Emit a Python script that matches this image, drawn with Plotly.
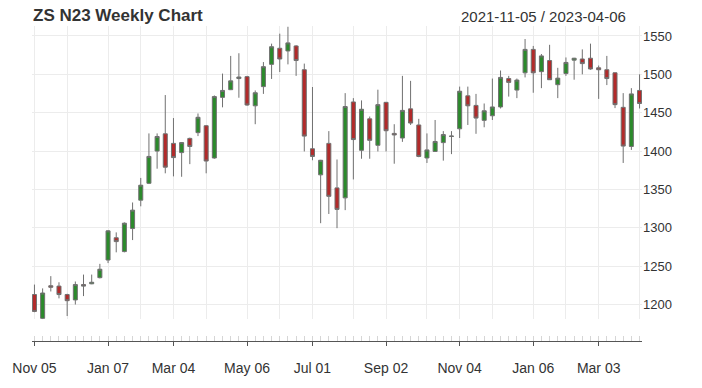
import plotly.graph_objects as go

# Weekly bar dates (last bar is a Thursday)
dates = [
    "2021-11-05", "2021-11-12", "2021-11-19", "2021-11-26", "2021-12-03", "2021-12-10",
    "2021-12-17", "2021-12-24", "2021-12-31", "2022-01-07", "2022-01-14", "2022-01-21",
    "2022-01-28", "2022-02-04", "2022-02-11", "2022-02-18", "2022-02-25", "2022-03-04",
    "2022-03-11", "2022-03-18", "2022-03-25", "2022-04-01", "2022-04-08", "2022-04-15",
    "2022-04-22", "2022-04-29", "2022-05-06", "2022-05-13", "2022-05-20", "2022-05-27",
    "2022-06-03", "2022-06-10", "2022-06-17", "2022-06-24", "2022-07-01", "2022-07-08",
    "2022-07-15", "2022-07-22", "2022-07-29", "2022-08-05", "2022-08-12", "2022-08-19",
    "2022-08-26", "2022-09-02", "2022-09-09", "2022-09-16", "2022-09-23", "2022-09-30",
    "2022-10-07", "2022-10-14", "2022-10-21", "2022-10-28", "2022-11-04", "2022-11-11",
    "2022-11-18", "2022-11-25", "2022-12-02", "2022-12-09", "2022-12-16", "2022-12-23",
    "2022-12-30", "2023-01-06", "2023-01-13", "2023-01-20", "2023-01-27", "2023-02-03",
    "2023-02-10", "2023-02-17", "2023-02-24", "2023-03-03", "2023-03-10", "2023-03-17",
    "2023-03-24", "2023-03-31", "2023-04-06",
]

opens = [
    1213, 1182, 1224.5, 1224, 1213, 1206, 1226, 1227, 1235, 1258,
    1287, 1269, 1299, 1336, 1358, 1400, 1422.5, 1410, 1398, 1416.5,
    1424, 1433, 1391, 1470, 1480, 1494.5, 1497, 1459, 1484, 1513,
    1534, 1530.5, 1537, 1506, 1403, 1369, 1410, 1352, 1339, 1464,
    1401, 1442, 1407.5, 1463.5, 1423, 1417, 1455, 1434, 1391, 1399.5,
    1411, 1419, 1429, 1472, 1459.5, 1440, 1446, 1457.5, 1494.5, 1479.5,
    1502, 1532.5, 1503.5, 1518, 1486.5, 1501, 1518.5, 1520, 1521, 1508.5,
    1506, 1502, 1457, 1406, 1479,
]
highs = [
    1226, 1221, 1237, 1229, 1214, 1230, 1239, 1239, 1253, 1297,
    1294, 1307, 1333, 1365, 1423, 1423, 1473, 1443, 1411.5, 1417.5,
    1449, 1434, 1472.5, 1501, 1524, 1527.5, 1498, 1479, 1516, 1540,
    1553, 1562, 1538, 1514, 1483.5, 1388.5, 1426, 1389, 1475.5, 1469,
    1466, 1445, 1480, 1464, 1435, 1498, 1491.5, 1442, 1423, 1440.5,
    1426, 1426, 1484, 1484, 1474.5, 1462, 1494.5, 1505, 1498, 1494.5,
    1546, 1537, 1526.5, 1538.5, 1508.5, 1522, 1521.5, 1532.5, 1540, 1511.5,
    1524, 1502.5, 1475.5, 1482, 1500,
]
lows = [
    1190, 1181, 1217, 1208, 1185, 1200, 1211, 1226.5, 1234, 1254,
    1268, 1268, 1284, 1328, 1357, 1377, 1371, 1367, 1366.5, 1383,
    1419.5, 1371, 1390, 1457, 1479.5, 1469.5, 1459, 1435, 1474.5, 1494,
    1503, 1513, 1498, 1399.5, 1388, 1306, 1318, 1299.5, 1323, 1363,
    1390, 1390, 1399.5, 1399.5, 1383.5, 1412, 1434, 1392, 1384.5, 1399,
    1387.5, 1396, 1417, 1434, 1422.5, 1431, 1440.5, 1455.5, 1471, 1469,
    1496, 1476, 1482, 1493, 1469, 1498, 1493, 1500, 1506, 1468,
    1486, 1456, 1384.5, 1401.5, 1455.5,
]
closes = [
    1191, 1215, 1222.5, 1213, 1205, 1226, 1224, 1229, 1246, 1296,
    1282, 1306, 1323, 1355.5, 1393, 1419, 1379, 1391.5, 1411, 1406,
    1444, 1387, 1471, 1479, 1491.5, 1496.5, 1460, 1476, 1510, 1536,
    1520, 1541, 1518, 1419.5, 1393, 1388, 1341, 1324, 1458, 1415,
    1454.5, 1414, 1460.5, 1426.5, 1421, 1453, 1436.5, 1393, 1401.5, 1412.5,
    1421.5, 1419.5, 1478, 1459, 1443, 1452.5, 1457.5, 1496, 1489.5, 1492.5,
    1532.5, 1502, 1524, 1493, 1495, 1515.5, 1521, 1514, 1507, 1506,
    1494.5, 1460.5, 1406.5, 1474.5, 1462,
]

y_ticks = [1200, 1250, 1300, 1350, 1400, 1450, 1500, 1550]
month_abbr = ["Jan", "Feb", "Mar", "Apr", "May", "Jun", "Jul", "Aug", "Sep", "Oct", "Nov", "Dec"]

idx = list(range(len(dates)))

# month-start ticks (first bar of each month), label every other one
tick_vals, tick_text = [], []
prev_month = None
for i, d in enumerate(dates):
    m = d[:7]
    if m != prev_month:
        lab = ""
        if len(tick_vals) % 2 == 0:
            lab = f"{month_abbr[int(d[5:7]) - 1]} {d[8:10]}"
        tick_vals.append(i)
        tick_text.append(lab)
    prev_month = m

FONT = "Liberation Sans, Arial, sans-serif"
TXT = "#333333"

fig = go.Figure()
fig.add_trace(go.Candlestick(
    x=idx, open=opens, high=highs, low=lows, close=closes,
    increasing=dict(fillcolor="#2b8a2b", line=dict(color="#707070", width=1)),
    decreasing=dict(fillcolor="#b22a2a", line=dict(color="#707070", width=1)),
    whiskerwidth=0,
    showlegend=False,
    hoverinfo="skip",
))

W, H = 702, 388
ml, mr, mt = 31, 60, 26
plot_h = 322                  # candle area top 26 -> axis line 348
mb = H - mt - plot_h
ydom0 = 22 / plot_h           # candle area bottom at 326 px
plot_w = W - ml - mr

fig.update_layout(
    width=W, height=H,
    margin=dict(l=ml, r=mr, t=mt, b=mb, pad=0),
    paper_bgcolor="white", plot_bgcolor="white",
    font=dict(family=FONT, color=TXT),
    showlegend=False,
    xaxis=dict(
        anchor="free", position=0,
        range=[-0.3, len(dates) - 0.7],
        rangeslider=dict(visible=False),
        tickmode="array", tickvals=tick_vals, ticktext=tick_text,
        ticks="outside", ticklen=4, tickcolor="#555555", tickwidth=1,
        showline=True, linecolor="#555555", linewidth=1,
        showgrid=True, gridcolor="#ececec", gridwidth=1,
        zeroline=False,
        ticklabelstandoff=10,
        tickfont=dict(size=14, color=TXT, family=FONT),
        minor=dict(tickmode="array", tickvals=idx, ticks="inside",
                   ticklen=5, tickcolor="#d6d6d6", tickwidth=1, showgrid=False),
    ),
    yaxis=dict(
        domain=[ydom0, 1],
        range=[1180.5, 1563],
        side="right",
        tickmode="array", tickvals=y_ticks, ticktext=[str(v) for v in y_ticks],
        ticks="", showline=False,
        showgrid=True, gridcolor="#ececec", gridwidth=1,
        zeroline=False,
        tickfont=dict(size=13, color=TXT, family=FONT),
    ),
    annotations=[
        dict(text="<b>ZS N23 Weekly Chart</b>", xref="paper", yref="paper",
             x=-0.002, y=(348 - 15.5) / plot_h, xanchor="left", yanchor="middle",
             showarrow=False, font=dict(size=17, color=TXT, family=FONT)),
        dict(text=f"{dates[0]} / {dates[-1]}", xref="paper", yref="paper",
             x=(628 - ml) / plot_w, y=(348 - 16) / plot_h,
             xanchor="right", yanchor="middle",
             showarrow=False, font=dict(size=15, color=TXT, family=FONT)),
    ],
)

fig.write_html("out.html", config={"displayModeBar": False},
               post_script="document.body.style.margin='0px';")
